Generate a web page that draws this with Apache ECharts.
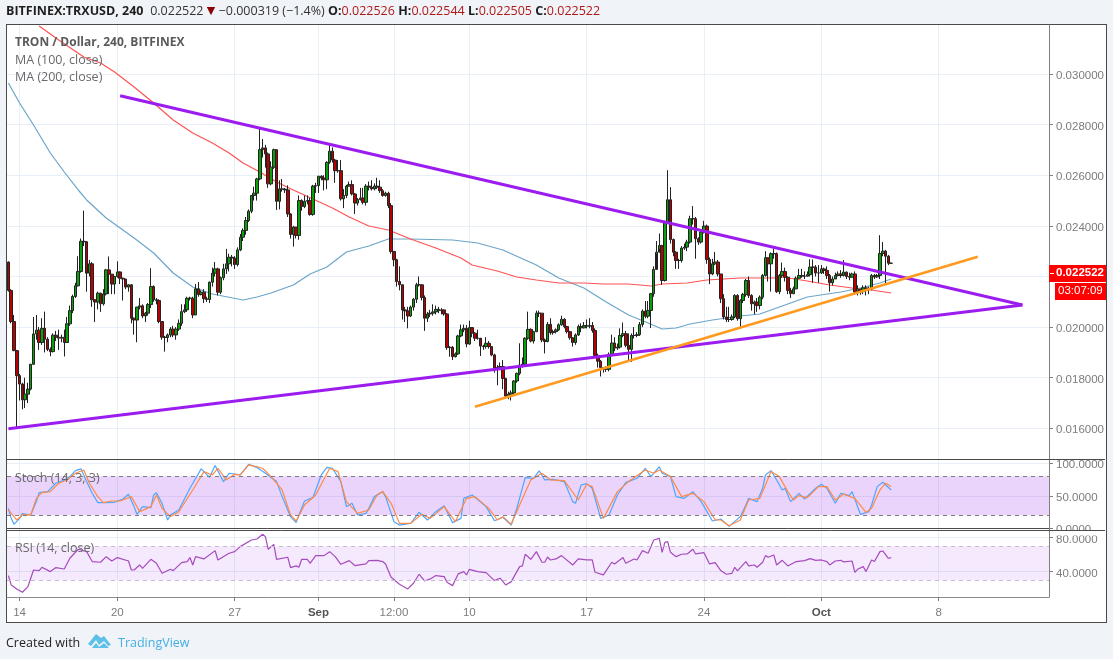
<!DOCTYPE html>
<html>
<head>
<meta charset="utf-8">
<title>TRON / Dollar, 240, BITFINEX</title>
<script src="https://cdn.jsdelivr.net/npm/echarts@6/dist/echarts.min.js"></script>
<style>
  html, body { margin: 0; padding: 0; width: 1113px; height: 659px; overflow: hidden; background: #f0f3f7; }
  #frame { position: absolute; left: 6px; top: 24px; width: 1099px; height: 597px; border: 1px solid #4a4a4a; background: #fff; }
  #chart { position: absolute; left: 0; top: 0; width: 1113px; height: 659px; }
</style>
</head>
<body>
<div id="frame"></div>
<div id="chart"></div>
<script>
// Prices are in millionths of a dollar; the axis formatter scales them back.
const firstOpen = 22570;
const closes = [
  21450,20220,19070,18080,17750,17130,17350,17550,18530,19730,
  19880,19390,19950,19520,19120,19030,19680,19600,19560,19600,
  19390,20130,20650,21210,21630,22200,23390,23370,22130,22500,
  21080,20990,21340,20920,21310,22260,22090,21700,22000,22180,
  21930,21900,21580,21670,20350,20280,20790,20840,20440,20550,
  20890,21600,21080,21050,20220,19600,19590,19690,19920,19690,
  19920,20150,20610,20680,21140,21140,20480,21510,21290,21380,
  21120,21090,21775,22130,22300,21380,21950,22300,22500,22760,
  22730,22470,23050,23550,23820,24210,24580,25200,25290,25855,
  27010,27080,26840,25660,26320,27010,24970,25460,25450,25420,
  24470,23660,23950,23620,25000,24760,24970,25000,24450,25570,
  25590,25960,25890,25820,26510,26950,26600,26180,26180,25070,
  25200,25570,25630,25260,24900,25040,25100,24930,25570,25530,
  25460,25570,25530,25390,25200,25290,24800,22990,22660,21800,
  21670,20680,20640,20440,20790,21100,21670,21670,21170,20350,
  20520,20550,20600,20700,20650,20680,20520,19190,19200,18830,
  18940,19650,19890,19950,19330,19980,19760,19560,19560,19250,
  19230,19360,19230,18900,18370,18410,18440,17970,17270,17350,
  17400,17870,18170,18500,18540,19560,19910,19450,19820,20550,
  20550,19490,19430,20110,19780,19820,19890,20090,20310,20020,
  19820,19580,19390,19690,20020,19970,20060,20030,20065,19870,
  18880,18650,18400,18350,18330,18920,19370,19170,19210,19670,
  19740,19280,19120,19670,19670,19700,20100,20630,20430,20660,
  21320,22280,22960,23220,21840,24140,25030,23460,22960,22630,
  22630,23120,23160,23360,24280,24280,23490,23360,23750,23990,
  22670,22100,22500,22570,22100,21120,20400,20300,20300,20400,
  21250,20330,21050,21290,21840,21250,20920,20990,20850,21180,
  22040,22740,22500,22900,22900,21400,22040,22200,21970,21450,
  21320,21510,21930,22040,22010,22010,22070,22370,22370,22140,
  22140,22300,22240,22040,21750,21900,22040,22100,22040,22170,
  22000,21970,22100,21380,21500,21400,21550,21500,21500,22040,
  21980,22040,22910,23000,22800,22526,22522
];
const highs = [
  22590,21500,20480,19100,18150,17800,18000,17800,18550,20400,
  20480,20000,20350,20610,19600,19200,19750,19850,19900,19700,
  19900,20400,20850,21280,21750,22800,23500,24600,23400,22650,
  22570,21100,21400,21350,21500,22300,22790,22100,22000,22600,
  22200,21950,21900,21700,21700,20380,20800,21150,20900,20600,
  20950,22330,21650,21150,21100,20200,19650,19750,20000,20050,
  20000,20300,20900,20900,21200,21200,21200,21700,21780,21450,
  21500,21200,21800,22350,22570,22350,22000,22500,23090,22900,
  22850,22800,23150,23680,23900,24350,24650,25200,25550,25900,
  27850,27430,27200,26900,26550,27050,27010,25800,25850,25500,
  25600,24500,24000,23950,25200,25050,25200,25200,25100,25620,
  25700,25980,26000,26000,26550,27170,27100,26650,26600,26600,
  25450,25620,25750,25800,25300,25100,25500,25500,25650,25750,
  25800,25680,25900,25800,25450,25350,25350,24900,23000,22700,
  22400,21700,20800,20800,20850,21150,21750,22000,21700,21250,
  20600,20680,20900,20850,20800,20750,20700,20550,19250,19250,
  19000,19700,20100,20100,20080,20250,20000,19800,19900,19500,
  19300,19600,19450,19250,18950,18500,18600,18700,18000,17450,
  17500,17900,18200,19360,18800,19600,20610,19950,19850,20650,
  20650,20550,19550,20200,20350,19900,19950,20150,20450,20350,
  20050,19850,19600,19750,20100,20150,20200,20300,20350,20200,
  19950,18950,18700,18400,18450,19000,19700,19600,19350,19950,
  20180,19850,19750,19750,20000,19800,20200,20700,21030,21030,
  21350,22400,23400,23700,23250,24200,26200,25530,23500,23000,
  22700,23200,23300,23450,24400,24780,24350,23550,23850,24200,
  24050,22750,22700,22970,22650,22100,21300,20800,20800,20500,
  21300,21300,21100,21350,21900,22000,21300,21050,21150,21250,
  22100,23000,22750,22950,23100,22950,22100,22550,22350,22000,
  21550,21600,22000,22300,22300,22200,22200,22680,22670,22450,
  22450,22450,22350,22400,22100,22000,22150,22200,22250,22650,
  22200,22150,22150,22200,21650,21500,21650,21650,21600,22100,
  22100,22100,23630,23360,23050,22850,22544
];
const lows = [
  21400,20150,19050,16050,17100,16750,16800,17000,17500,18500,
  19500,19100,19300,19000,19050,18850,19000,19450,19100,19400,
  18840,19380,20050,20550,21150,21600,22150,23200,21400,22000,
  20800,20200,20700,20600,20850,21250,21300,21300,21300,21950,
  21700,21050,21500,21400,20150,19700,19400,20700,20350,20200,
  20450,20750,21000,20900,20150,19500,19030,19400,19600,19600,
  19500,19850,20050,20550,20600,21050,20350,20480,21200,21250,
  20950,20990,20950,21600,22000,21250,21300,21850,22100,22200,
  22400,22300,22400,23000,23400,23650,24150,24500,25000,25000,
  25800,26700,26300,25500,25600,26250,24630,24650,25350,25300,
  24350,23500,23180,23500,23450,24600,24700,24850,24400,24400,
  25300,25300,25800,25400,25450,26450,26500,25700,26100,25000,
  24700,25100,25550,25200,24470,24800,25000,24850,24800,25400,
  25400,25400,25450,25300,25150,25150,24700,22900,22400,21600,
  21450,20300,20200,19950,20400,20650,20950,21600,21050,19850,
  20200,20400,20450,20500,20550,20500,20450,19100,18830,18700,
  18800,18900,19600,19800,19200,19300,19600,19450,19500,18860,
  19100,19150,19150,18850,18200,17700,18300,17550,17250,17150,
  17100,17300,17800,18100,18400,18500,19500,19400,19350,19800,
  20400,19400,18960,19400,19700,19700,19750,19850,20050,19950,
  19750,19500,19230,19300,19650,19800,19950,19950,19950,19780,
  18800,18400,18050,18200,18230,18250,18850,19050,19100,19150,
  19600,19200,18700,18620,19550,19600,19650,20000,20350,20350,
  19960,21200,22900,23100,21670,21800,24100,23300,22800,22300,
  22300,22550,23050,23000,23300,24050,22700,23250,23300,23700,
  22500,21700,22050,22450,22000,20950,20300,20200,20200,20250,
  20350,20250,19950,20950,21200,21150,20650,20500,20600,20700,
  21100,22000,21800,21400,22700,21350,21300,21950,21800,21300,
  21150,21300,21500,21950,21950,21900,22000,22000,21750,22000,
  21750,22100,22100,21900,21400,21650,21900,22000,21950,22000,
  21900,21850,21950,21300,21250,21280,21300,21250,21300,21450,
  21900,21950,21900,22800,21720,22450,22505
];

// Moving averages, read at the listed bars.
const ma200Bars = [11,18,27,33,38,45,52,59,66,73,79,84,90,96,102,109,116,122,129,136,144,153,162,166,175,182,189,197,206,213,222,230,234,243,250,262,274,277,286,294,302,309,316];
const ma200Values = [31896,31343,30672,30435,30079,29486,28854,28183,27669,27274,26879,26484,26128,25733,25417,25061,24706,24350,23994,23837,23481,23125,22730,22454,22217,21980,21861,21742,21742,21703,21703,21624,21703,21742,21861,21940,21940,21980,21822,21663,21545,21466,21347];
const ma100Bars = [0,4,9,15,20,25,28,35,45,52,59,66,73,84,89,94,102,108,114,121,129,136,144,159,168,177,189,197,206,214,222,229,234,239,244,252,262,269,276,286,298,305,312,316];
const ma100Values = [29644,28854,27985,26879,26128,25417,25022,24311,23520,22927,22137,21585,21308,21071,21189,21347,21663,22098,22375,22967,23204,23481,23481,23441,23323,23046,22454,21940,21545,20992,20478,20162,19925,19964,20122,20281,20439,20518,20794,21189,21387,21545,21742,21900];

// Hand-drawn trend lines: two anchors each.
const fallingBars = [40,363];
const fallingValues = [29143,20873];
const risingBars = [0,363];
const risingValues = [15986,20873];
const supportBars = [167,347];
const supportValues = [16855,22782];

const stochKBars = [0,1,2,4,5,8,10,11,14,17,20,22,24,26,28,30,32,35,38,41,43,45,46,48,51,52,53,55,57,58,61,65,69,72,74,77,79,83,86,89,92,96,98,101,103,104,106,109,112,114,116,119,121,123,125,128,129,131,134,135,138,140,144,147,150,153,156,159,162,163,166,171,174,177,180,182,185,188,190,192,195,199,202,203,205,207,209,212,215,218,221,225,228,230,233,234,237,239,242,245,248,252,255,258,262,264,265,268,270,271,273,275,277,278,280,283,285,289,291,293,296,298,301,302,305,308,309,311,313,316];
const stochKValues = [30.7,15.3,6.1,15.3,22.5,20.5,41,54.8,56.4,69.2,74.3,79.5,88.7,91.3,71.8,53.8,39.4,39.4,40,45,52.3,33.3,21.5,33.3,31.7,51.2,54.8,38.4,12.8,20.5,28.2,61.5,91.3,78.4,96.4,71.8,84.6,82,98.4,93.3,84.6,71.8,48.7,17.9,8.7,20.5,42,47.1,82,93.8,92.3,71.8,33.3,38.4,20.5,23,30.7,48.7,56.4,48.7,10.2,5,7.6,24.6,12.8,25.6,34.8,8.7,15.3,46.1,51.2,33.3,11.7,16.9,5,30.7,77.9,76.9,88.2,74.3,75.3,71.8,41,38.4,66.6,68.7,61.5,15.3,20.5,51.2,70.2,76.9,92.3,79.5,94.8,84.6,79.5,48.7,46.1,56.4,41,11.2,14.3,3,17.9,35.8,46.1,41,61.5,82,88.7,74.3,58.9,61.5,41,53.8,45,61.5,67.7,61.5,38.4,53.8,50.2,56.4,21.5,25.6,35.8,64.1,70.7,58.9];
const stochDBars = [0,1,3,5,8,10,12,15,18,21,24,27,29,32,34,37,40,44,47,51,53,55,58,61,66,70,73,75,78,81,83,86,91,94,98,101,103,106,110,115,118,121,125,129,132,134,137,140,144,148,151,156,160,164,167,172,175,177,180,183,187,191,194,199,204,207,209,213,218,222,228,231,233,237,241,245,249,253,255,258,262,265,269,273,276,279,281,283,286,290,293,296,299,303,307,309,312,314,316];
const stochDValues = [28.2,23,12.8,20.5,20.5,46.1,54.8,56.4,69.2,74.3,84.6,89.7,69.2,48.7,39.4,42,42,48.7,25.6,33.3,51.2,30.7,17.9,25.6,58.9,87.2,82,92.3,74.3,83,82,97.4,92.3,79.5,58.9,20.5,11.2,35.8,51.2,92.3,87.2,41,23,28.2,51.2,56.4,38.4,7.6,7.6,21.5,15.3,33.3,10.2,46.1,48.7,30.7,12.8,17.9,6.1,35.8,74.3,84.6,74.3,73.3,43.5,67.7,64.1,15.3,56.4,71.8,89.7,84.6,89.7,79.5,48.7,53.8,41,12.8,12.8,4,12.8,43.5,46.1,87.2,79.5,56.4,43.5,50.2,47.1,64.1,64.1,43.5,52.3,46.1,24.6,30.7,58.9,69.2,64.1];
const rsiBars = [0,1,3,5,7,9,11,12,15,17,20,22,25,28,30,33,35,37,39,43,44,45,47,48,51,53,55,58,59,62,64,65,66,67,70,74,75,79,81,83,87,89,91,92,93,95,96,100,101,103,104,105,107,108,110,113,115,117,119,122,124,128,129,132,134,135,137,140,143,145,147,149,151,153,156,157,159,161,163,164,165,168,171,174,176,178,180,183,184,185,187,189,191,192,193,194,196,198,202,204,207,209,210,213,216,217,220,221,224,225,227,229,231,233,234,235,236,237,239,241,243,245,246,249,251,253,255,257,259,260,261,262,264,265,267,268,270,271,272,274,275,277,279,282,285,287,289,291,293,294,296,298,299,302,303,304,306,307,309,310,312,313,315,316];
const rsiValues = [35.4,24.4,19.7,15.8,22.5,42,41.3,45.2,40.1,44.8,43.2,55.8,66.4,63.6,51.9,51.1,57.7,52.6,56.6,52.6,42,42,47.9,44,54.6,49.9,38.1,42.8,41.3,50.7,51.9,56.6,47.9,57.7,55,64.8,53.8,61.7,63.6,69.5,77.3,78.5,84,81.3,66.4,72.2,54.6,57,44.8,46.8,45.2,54.6,54.6,49.9,58.9,58.9,63.6,57.7,48.7,53,47.2,49.1,53,53.4,51.9,49.1,33.5,25.2,19.7,26.4,37,29.1,31.5,35.4,34.2,27.6,23.6,37.4,40.1,36.2,42.8,40.1,38.9,29.5,32.3,24.4,28.3,46,46.8,60.5,54.6,63.6,51.1,51.1,57.3,53.8,55,58.9,47.9,55,53.8,53.8,39.3,36.2,51.1,49.1,56.6,49.9,55,53.8,64.8,61.7,77.3,79.3,62.8,74.6,75.4,62.8,57.7,60.5,60.9,66.4,60.9,62.4,49.1,50.7,41.3,37,38.1,45.2,40.9,44.8,51.9,46.8,47.9,45.2,51.1,58.9,57,59.7,47.9,53.4,46.8,51.9,53,55.4,53.4,53.8,51.9,47.9,52.6,53.4,51.5,52.6,39.3,42.8,46,40.1,53.8,51.9,63.6,64.4,55.8,56.6];

// Time axis: bars carrying a tick, and the labels printed there.
const barCount = 373;
const tickBars = [4,39,81,111,138,165,207,249,291,333];
const tickLabels = ['14','20','27','Sep','12:00','10','17','24','Oct','8'];
const priceTicks = [16000,18000,20000,22000,24000,26000,28000,30000];
const stochTicks = [0,50,100];
const rsiTicks = [40,80];

const zip = (xs, ys) => xs.map((x, i) => [x, ys[i]]);
const categories = Array.from({ length: barCount }, (_, i) => String(i));
const isTick = (i) => tickBars.includes(i);
const candles = closes.map((c, i) => [i === 0 ? firstOpen : closes[i - 1], c, lows[i], highs[i]]);

const GRID_LINE = '#e8eff6';
const AXIS_TEXT = '#7c7c7c';
const FONT = '"Open Sans", "DejaVu Sans", sans-serif';
const AXIS_FONT = '"Liberation Sans", Arial, sans-serif';

const xAxisFor = (gridIndex, extra) => Object.assign({
  type: 'category', gridIndex, data: categories, boundaryGap: true,
  axisLine: { show: true, lineStyle: { color: '#4a4a4a', width: 1 } },
  axisTick: { show: false },
  axisLabel: { show: false },
  splitLine: { show: true, interval: (i) => isTick(i), alignWithLabel: true, lineStyle: { color: GRID_LINE, width: 1 } }
}, extra);

// Value labels sit slightly below their tick, so each carries a little top padding.
const yAxisFor = (gridIndex, min, max, ticks, fmt) => ({
  type: 'value', gridIndex, position: 'right', min, max, scale: true,
  axisLine: { show: true, lineStyle: { color: '#808080', width: 1 } },
  axisTick: { show: true, length: 4, lineStyle: { color: '#808080' }, customValues: ticks },
  axisLabel: {
    show: true, margin: 7, customValues: ticks, hideOverlap: false,
    formatter: (v) => '{t|' + fmt(v) + '}',
    rich: { t: { color: AXIS_TEXT, fontSize: 11.5, fontFamily: AXIS_FONT, padding: [4, 0, 0, 0] } }
  },
  splitLine: { show: true, lineStyle: { color: GRID_LINE, width: 1 } }
});

const lineSeries = (name, bars, values, axis, color, width, z) => ({
  name, type: 'line', xAxisIndex: axis, yAxisIndex: axis, data: zip(bars, values),
  symbol: 'none', showSymbol: false, smooth: false, z: z || 3, clip: true,
  lineStyle: { color, width }, silent: true
});

const bandSeries = (axis, low, high, fill, dash) => ({
  type: 'line', xAxisIndex: axis, yAxisIndex: axis, data: [], silent: true, z: 1,
  markArea: { silent: true, itemStyle: { color: fill }, data: [[{ yAxis: low }, { yAxis: high }]] },
  markLine: { silent: true, symbol: 'none', label: { show: false }, lineStyle: { color: dash, type: [4, 4], width: 1 }, data: [{ yAxis: low }, { yAxis: high }] }
});

const headerText =
  '{sym|BITFINEX:TRXUSD, 240}  {val|0.022522} {down|▼} {val|−0.000319 (−1.4%)} ' +
  '{sym|O:}{red|0.022526} {sym|H:}{red|0.022544} {sym|L:}{red|0.022505} {sym|C:}{red|0.022522}';

const overlay = [
  // Header line
  { type: 'text', z: 100, left: 6, top: 5, style: { text: headerText, rich: {
      sym: { font: 'bold 12.5px ' + FONT, fill: '#1e1e1e' },
      val: { font: '12.5px ' + FONT, fill: '#333' },
      down: { font: '11px "DejaVu Sans"', fill: '#8b0000' },
      red: { font: '12.5px ' + FONT, fill: '#b01818' } } } },
  // Pane legends
  { type: 'text', z: 100, left: 15, top: 37, style: { text: 'TRON / Dollar, 240, BITFINEX', font: 'bold 12px ' + FONT, fill: '#5a5a5a' } },
  { type: 'text', z: 100, left: 15, top: 54, style: { text: 'MA (100, close)', font: '12.5px ' + FONT, fill: '#6a6a6a' } },
  { type: 'text', z: 100, left: 15, top: 71, style: { text: 'MA (200, close)', font: '12.5px ' + FONT, fill: '#6a6a6a' } },
  { type: 'text', z: 100, left: 15, top: 472, style: { text: 'Stoch (14, 3, 3)', font: '12.5px ' + FONT, fill: '#6a6a6a' } },
  { type: 'text', z: 100, left: 15, top: 542, style: { text: 'RSI (14, close)', font: '12.5px ' + FONT, fill: '#6a6a6a' } },
  // Bottom half of the zero label falls under the RSI pane
  { type: 'rect', z: 90, shape: { x: 1050, y: 530.5, width: 55, height: 5 }, style: { fill: '#fff' } },
  { type: 'line', z: 95, shape: { x1: 7, y1: 530.5, x2: 1105, y2: 530.5 }, style: { stroke: '#4a4a4a', lineWidth: 1 } },
  { type: 'line', z: 95, shape: { x1: 1049, y1: 459.5, x2: 1105, y2: 459.5 }, style: { stroke: '#4a4a4a', lineWidth: 1 } },
  // Last price tag and bar countdown
  { type: 'rect', z: 100, shape: { x: 1049, y: 265, width: 57, height: 17 }, style: { fill: '#ff0000' } },
  { type: 'line', z: 101, shape: { x1: 1050, y1: 273.5, x2: 1054, y2: 273.5 }, style: { stroke: '#fff', lineWidth: 1 } },
  { type: 'text', z: 101, left: 1056, top: 267, style: { text: '0.022522', font: 'bold 11.5px ' + AXIS_FONT, fill: '#fff' } },
  { type: 'rect', z: 100, shape: { x: 1055, y: 283, width: 51, height: 17 }, style: { fill: '#ff0000' } },
  { type: 'text', z: 101, left: 1058, top: 285, style: { text: '03:07:09', font: '11.5px ' + AXIS_FONT, fill: '#fff' } },
  // Footer credit
  { type: 'text', z: 100, left: 6, top: 637, style: { text: 'Created with', font: '12.5px ' + FONT, fill: '#222' } },
  { type: 'polygon', z: 100, shape: { points: [[88,644],[96,634],[101,638],[104,636],[111,645],[108,646],[104,641],[99,645],[96,640],[91,646]] }, style: { fill: '#5cc0e8' } },
  { type: 'polygon', z: 100, shape: { points: [[92,648],[96,643],[99,647],[104,643],[109,648]] }, style: { fill: '#5cc0e8' } },
  { type: 'text', z: 100, left: 118, top: 637, style: { text: 'TradingView', font: '12.5px ' + FONT, fill: '#44b0e4' } }
];

const option = {
  animation: false,
  backgroundColor: 'transparent',
  graphic: overlay,
  grid: [
    { left: 7, top: 25, width: 1042, height: 434, containLabel: false },
    { left: 7, top: 460, width: 1042, height: 70, containLabel: false },
    { left: 7, top: 531, width: 1042, height: 66, containLabel: false }
  ],
  xAxis: [
    xAxisFor(0),
    xAxisFor(1),
    xAxisFor(2, {
      axisLine: { show: true, lineStyle: { color: '#8c8c8c', width: 1 } },
      axisTick: { show: true, length: 4, interval: (i) => isTick(i), alignWithLabel: true, lineStyle: { color: '#808080' } },
      axisLabel: {
        show: true, interval: (i) => isTick(i), margin: 10, color: AXIS_TEXT, fontSize: 11.5,
        fontFamily: AXIS_FONT, hideOverlap: false,
        formatter: (v) => {
          const t = tickLabels[tickBars.indexOf(Number(v))];
          return t === 'Sep' || t === 'Oct' ? '{b|' + t + '}' : t;
        },
        rich: { b: { fontWeight: 'bold', color: '#555', fontSize: 11.5, fontFamily: AXIS_FONT } }
      }
    })
  ],
  yAxis: [
    yAxisFor(0, 14788, 31936, priceTicks, (v) => (v / 1e6).toFixed(6)),
    yAxisFor(1, -2.6, 105, stochTicks, (v) => v.toFixed(4)),
    yAxisFor(2, 10.2, 87.9, rsiTicks, (v) => v.toFixed(4))
  ],
  series: [
    lineSeries('MA 100', ma100Bars, ma100Values, 0, '#6ba5c9', 1.2, 2),
    lineSeries('MA 200', ma200Bars, ma200Values, 0, '#ff5252', 1.2, 2),
    {
      name: 'TRXUSD', type: 'candlestick', xAxisIndex: 0, yAxisIndex: 0, data: candles,
      barWidth: 3, z: 3, silent: true,
      itemStyle: { color: '#0aa00a', color0: '#b80000', borderColor: '#222', borderColor0: '#222', borderColorDoji: '#222', borderWidth: 1 }
    },
    lineSeries('Falling trend line', fallingBars, fallingValues, 0, '#9c1cf0', 3, 5),
    lineSeries('Rising trend line', risingBars, risingValues, 0, '#9c1cf0', 3, 5),
    lineSeries('Support line', supportBars, supportValues, 0, '#ff9a1f', 2.5, 6),
    bandSeries(1, 20, 80, 'rgba(156,39,240,0.2)', '#7d7d7d'),
    lineSeries('Stoch K', stochKBars, stochKValues, 1, '#4da6ff', 1.2, 3),
    lineSeries('Stoch D', stochDBars, stochDValues, 1, '#ff8a45', 1.2, 3),
    bandSeries(2, 30, 70, 'rgba(156,39,240,0.1)', '#c9b7d2'),
    lineSeries('RSI', rsiBars, rsiValues, 2, '#a64bbd', 1.2, 3)
  ]
};

const chart = echarts.init(document.getElementById('chart'), null, { renderer: 'canvas' });
chart.setOption(option);
</script>
</body>
</html>
